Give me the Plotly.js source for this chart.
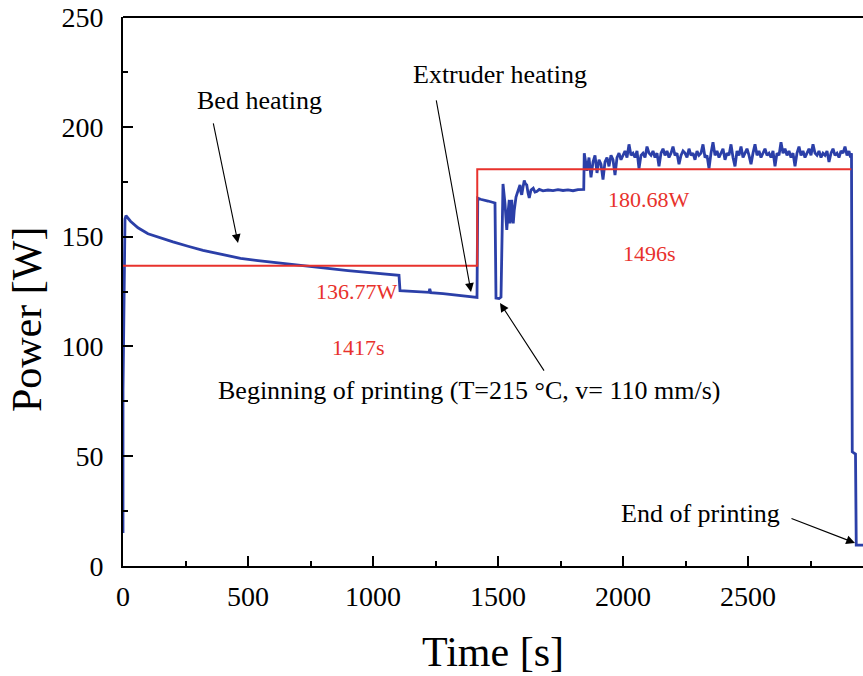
<!DOCTYPE html>
<html>
<head>
<meta charset="utf-8">
<script src="https://cdn.plot.ly/plotly-3.0.1.min.js"></script>
<style>html,body{margin:0;padding:0;background:#fff;}#chart{width:863px;height:676px;}</style>
</head>
<body>
<div id="chart"></div>
<script>
// Measured power (blue) — time [s]
const timeS = [
  0, 0, 8, 12, 30, 60, 100, 150, 200, 260, 320, 400, 470, 540, 600, 660, 710, 780, 840, 900, 976, 1040, 1096, 1104,
  1108, 1150, 1200, 1224, 1227, 1231, 1280, 1340, 1400, 1416,
  1419, 1430, 1460, 1488, 1492, 1504, 1512, 1520, 1528, 1535, 1541, 1545, 1548, 1552, 1555, 1558, 1561, 1565, 1568,
  1572, 1577, 1583, 1588, 1592, 1595, 1600, 1605, 1610, 1615, 1620, 1625, 1632, 1641, 1648, 1655, 1665, 1680, 1700,
  1720, 1740, 1760, 1780, 1800, 1820, 1838, 1843,
  1845, 1848, 1856, 1864, 1872, 1880, 1888, 1896, 1904, 1912, 1920, 1928, 1936, 1944, 1952, 1960, 1968, 1976, 1984,
  1992, 2000, 2008, 2016, 2024, 2032, 2040, 2048, 2056, 2064, 2072, 2080, 2088, 2096, 2104, 2112, 2120, 2128, 2136,
  2144, 2152, 2160, 2168, 2176, 2184, 2192, 2200, 2208, 2216, 2224, 2232, 2240, 2248, 2256, 2264, 2272, 2280, 2288,
  2296, 2304, 2312, 2320, 2328, 2336, 2344, 2352, 2360, 2368, 2376, 2384, 2392, 2400, 2408, 2416, 2424, 2432, 2440,
  2448, 2456, 2464, 2472, 2480, 2488, 2496, 2504, 2512, 2520, 2528, 2536, 2544, 2552, 2560, 2568, 2576, 2584, 2592,
  2600, 2608, 2616, 2624, 2632, 2640, 2648, 2656, 2664, 2672, 2680, 2688, 2696, 2704, 2712, 2720, 2728, 2736, 2744,
  2752, 2760, 2768, 2776, 2784, 2792, 2800, 2808, 2816, 2824, 2832, 2840, 2848, 2856, 2864, 2872, 2880, 2888, 2896,
  2904, 2910, 2914,
  2917, 2930, 2933, 2960
];
// Measured power (blue) — power [W]
const powerW = [
  15, 80, 158, 159.5, 157, 154, 151.3, 149.3, 147.6, 145.6, 143.7, 141.8, 140.1, 139.1, 138.3, 137.5, 136.8, 135.9, 135.2, 134.5, 133.7, 133.1, 132.6, 132.4,
  125.4, 125.1, 124.8, 124.6, 126.2, 124.5, 124.0, 123.3, 122.6, 122.3,
  167.5, 167.0, 166.2, 165.3, 122.0, 121.8, 122.5, 174.0, 165.0, 153.0, 162.0, 166.7, 156.0, 163.0, 166.7, 159.0, 156.0, 162.0, 165.0,
  168.0, 169.8, 172.0, 173.5, 170.0, 169.0, 172.5, 175.5, 174.0, 173.5, 170.0, 167.6, 171.2, 172.0, 170.3, 170.5, 171.5, 170.8, 171.2,
  170.9, 171.4, 171.0, 171.3, 170.9, 171.4, 171.5, 171.5,
  188, 185, 180, 186, 177, 184, 187, 179, 185, 183, 176, 184, 186, 182, 187, 185, 178, 186, 188,
  185, 187, 189, 186, 192, 187, 188, 186, 189, 181, 187, 188, 186, 191, 188, 187, 189, 186, 188,
  182, 188, 190, 187, 189, 186, 188, 191, 187, 188, 183, 187, 189, 188, 186, 190, 187, 188, 185,
  189, 187, 188, 192, 186, 187, 181, 188, 193, 187, 189, 186, 188, 190, 185, 188, 187, 192, 186,
  182, 189, 187, 191, 186, 188, 190, 187, 183, 188, 192, 187, 189, 186, 188, 190, 187, 188, 186,
  189, 182, 188, 187, 193, 188, 190, 187, 189, 186, 188, 182, 188, 191, 187, 189, 186, 188, 190,
  187, 192, 188, 187, 189, 186, 188, 187, 189, 184, 188, 190, 187, 188, 186, 189, 188, 191, 187,
  189, 186, 188,
  52, 51, 9.5, 9.5
];
// Average power steps (red)
const avgTime = [0, 1417, 1417, 2913];
const avgPower = [136.77, 136.77, 180.68, 180.68];

const xTicks = [0, 500, 1000, 1500, 2000, 2500];
const yTicks = [0, 50, 100, 150, 200, 250];

const serif = 'Liberation Serif, Times New Roman, serif';
const redC = '#e8322c';
const blueC = '#2b3fa8';

const traces = [
  {x: timeS, y: powerW, type: 'scatter', mode: 'lines', line: {color: blueC, width: 2.8}, hoverinfo: 'skip'},
  {x: avgTime, y: avgPower, type: 'scatter', mode: 'lines', line: {color: redC, width: 2}, hoverinfo: 'skip'}
];

function txt(text, x, y, size, color) {
  return {text: text, x: x, y: y, xref: 'x', yref: 'y', showarrow: false,
          xanchor: 'center', yanchor: 'middle', font: {family: serif, size: size, color: color}};
}
function arrow(x, y, ax, ay) {
  return {text: '', x: x, y: y, ax: ax, ay: ay, xref: 'x', yref: 'y', axref: 'x', ayref: 'y',
          showarrow: true, arrowhead: 2, arrowsize: 1.6, arrowwidth: 1.1, arrowcolor: '#000', standoff: 0, startstandoff: 0};
}

const annotations = [
  txt('Bed heating', 544, 212.2, 26, '#000'),
  arrow(460, 147.1, 360, 202.2),
  txt('Extruder heating', 1508, 223.6, 26, '#000'),
  arrow(1392, 124.8, 1252, 212.7),
  txt('Beginning of printing (T=215 °C, v= 110 mm/s)', 1382, 80.1, 26, '#000'),
  arrow(1508, 119.8, 1688, 88.3),
  txt('End of printing', 2308, 24.1, 26, '#000'),
  arrow(2928, 10.5, 2668, 21.9),
  txt('136.77W', 936, 124.8, 22, redC),
  txt('1417s', 940, 99.7, 22, redC),
  txt('180.68W', 2104, 167.1, 22, redC),
  txt('1496s', 2106, 142.5, 22, redC),
  {text: 'Power [W]', xref: 'paper', yref: 'paper', x: -0.1297, y: 0.448, textangle: -90, showarrow: false,
   xanchor: 'center', yanchor: 'middle', font: {family: serif, size: 42, color: '#000'}},
  {text: 'Time [s]', xref: 'paper', yref: 'paper', x: 0.5, y: -0.1566, showarrow: false,
   xanchor: 'center', yanchor: 'middle', font: {family: serif, size: 42, color: '#000'}}
];

const layout = {
  width: 863, height: 676,
  margin: {l: 123, r: 0, t: 17, b: 110, pad: 0},
  paper_bgcolor: '#ffffff', plot_bgcolor: '#ffffff',
  showlegend: false,
  xaxis: {
    range: [0, 2960], tickvals: xTicks, ticktext: xTicks.map(String),
    ticks: 'inside', ticklen: 10, tickwidth: 2, tickcolor: '#000',
    minor: {dtick: 250, tick0: 0, ticks: 'inside', ticklen: 5, tickwidth: 2, tickcolor: '#000', showgrid: false},
    showline: true, linewidth: 2, linecolor: '#000', showgrid: false, zeroline: false,
    tickfont: {family: serif, size: 28, color: '#000'}, ticklabelstandoff: 4
  },
  yaxis: {
    range: [0, 250], tickvals: yTicks, ticktext: yTicks.map(String),
    ticks: 'inside', ticklen: 10, tickwidth: 2, tickcolor: '#000',
    minor: {dtick: 25, tick0: 0, ticks: 'inside', ticklen: 5, tickwidth: 2, tickcolor: '#000', showgrid: false},
    showline: true, linewidth: 2, linecolor: '#000', showgrid: false, zeroline: false,
    tickfont: {family: serif, size: 28, color: '#000'}, ticklabelstandoff: 12
  },
  shapes: [{type: 'line', xref: 'paper', yref: 'paper', x0: 0, x1: 1, y0: 1, y1: 1, line: {color: '#000', width: 2}}],
  annotations: annotations
};

Plotly.newPlot('chart', traces, layout, {staticPlot: true, displayModeBar: false});
</script>
</body>
</html>
